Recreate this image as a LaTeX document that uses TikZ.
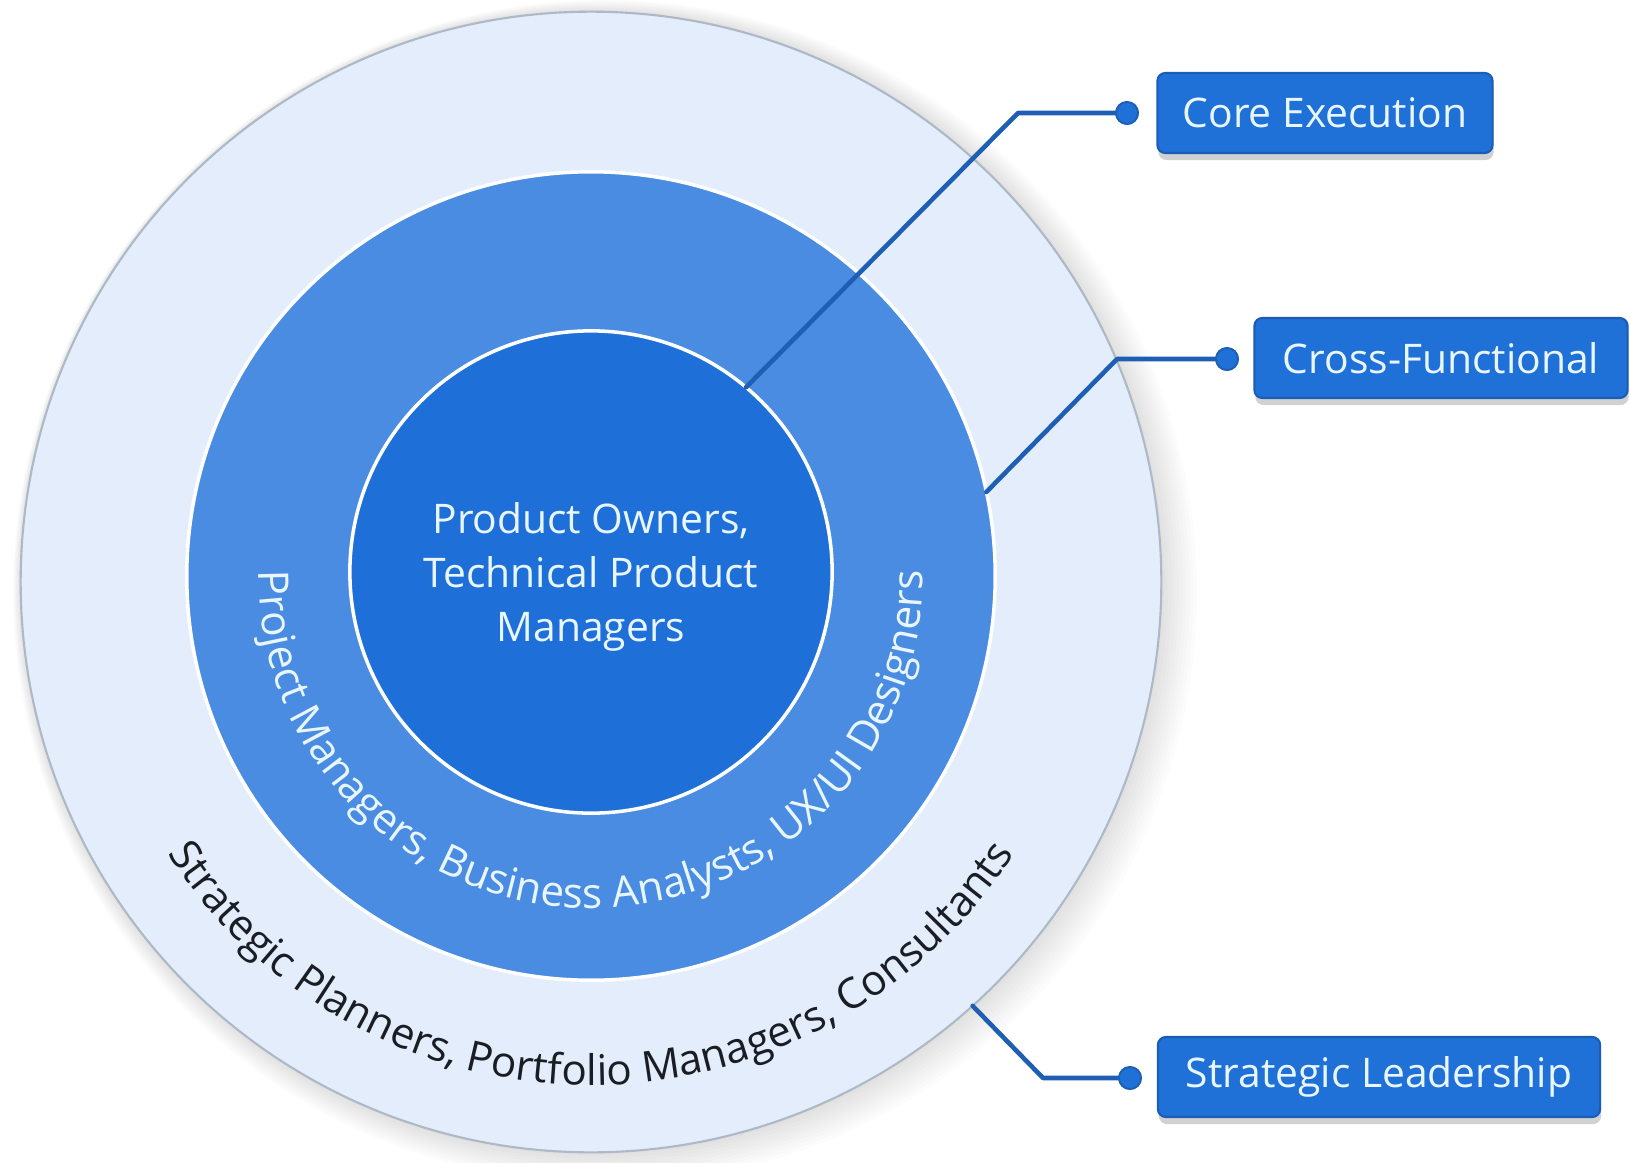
\documentclass[tikz,border=0pt]{standalone}
\usepackage{fontspec}
\setmainfont{Open Sans}
\usetikzlibrary{decorations.text,shadows}
\definecolor{outerfill}{HTML}{E3EDFB}
\definecolor{outerline}{HTML}{AEB9C6}
\definecolor{midfill}{HTML}{4A8CE2}
\definecolor{innerfill}{HTML}{1F6FD9}
\definecolor{boxfill}{HTML}{1F70D7}
\definecolor{boxline}{HTML}{1A5CB6}
\definecolor{connc}{HTML}{1E5EB3}
\definecolor{lighttext}{HTML}{E8F6FF}
\definecolor{darktext}{HTML}{1A1D24}
\begin{document}
\begin{tikzpicture}[x=0.01cm,y=0.01cm,
  ring/.style={circle, inner sep=0pt, outer sep=0pt},
  labelbox/.style={rectangle, rounded corners=0.08cm, fill=boxfill, draw=boxline, line width=0.6pt,
    text=lighttext, font=\fontsize{11.6pt}{14pt}\selectfont, minimum height=0.8cm, inner sep=0pt,
    drop shadow={shadow xshift=0.01cm, shadow yshift=-0.07cm, opacity=0.18, fill=black}},
  conn/.style={draw=connc, line width=1.3pt, line join=round, line cap=round},
  dotnode/.style={circle, fill=boxfill, draw=connc, line width=0.5pt, minimum size=0.22cm, inner sep=0pt}
]
\useasboundingbox (0,0) rectangle (1630,1162);
\fill[white] (0,0) rectangle (1630,1162);
% soft shadow of the outer circle
\foreach \k in {1,...,10} {
  \fill[black, opacity=0.013] ({591+\k*1.4}, {580-\k*1.0}) circle ({570+\k*2.2});
}
\node[ring, minimum size=11.4cm, fill=outerfill, draw=outerline, line width=0.6pt] (outer) at (591,580) {};
\node[ring, minimum size=8.08cm, fill=midfill, draw=white, line width=1pt] (middle) at (591,586) {};
\node[ring, minimum size=4.82cm, fill=innerfill, draw=white, line width=1pt] (inner) at (591,590) {};
\node[text=lighttext, align=center, font=\fontsize{11.6pt}{15.4pt}\selectfont] (innertext) at (591,585)
  {Product Owners,\\Technical Product\\Managers};

% curved ring texts
\path[decorate, decoration={text along path, text align=center,
  text={|\fontsize{12pt}{14pt}\selectfont\color{lighttext}|Project Managers, Business Analysts, UX/UI Designers}}]
  (middle.center) ++(165:332) arc[start angle=165, end angle=375, radius=332];
\path[decorate, decoration={text along path, text align=center,
  text={|\fontsize{12pt}{14pt}\selectfont\color{darktext}|Strategic Planners, Portfolio Managers, Consultants}}]
  (outer.center) ++(195:503) arc[start angle=195, end angle=345, radius=503];

% connectors
\coordinate (cee) at (1018,1049);
\coordinate (cfe) at (1117,803);
\coordinate (sle) at (1043,84);
\node[dotnode] (ced) at (1127,1049) {};
\node[dotnode] (cfd) at (1227,803) {};
\node[dotnode] (sld) at (1130,84) {};
\draw[conn] (inner.50) -- (cee) -- (ced.center);
\draw[conn] (middle.12) -- (cfe) -- (cfd.center);
\draw[conn] (outer.-48) -- (sle) -- (sld.center);
\node[dotnode] at (ced) {};
\node[dotnode] at (cfd) {};
\node[dotnode] at (sld) {};

% labels
\node[labelbox, minimum width=3.35cm] (ce) at (1325,1049) {Core Execution};
\node[labelbox, minimum width=3.73cm] (cf) at (1441,804) {Cross-Functional};
\node[labelbox, minimum width=4.42cm] (sl) at (1379,85) {Strategic Leadership};
\end{tikzpicture}
\end{document}
